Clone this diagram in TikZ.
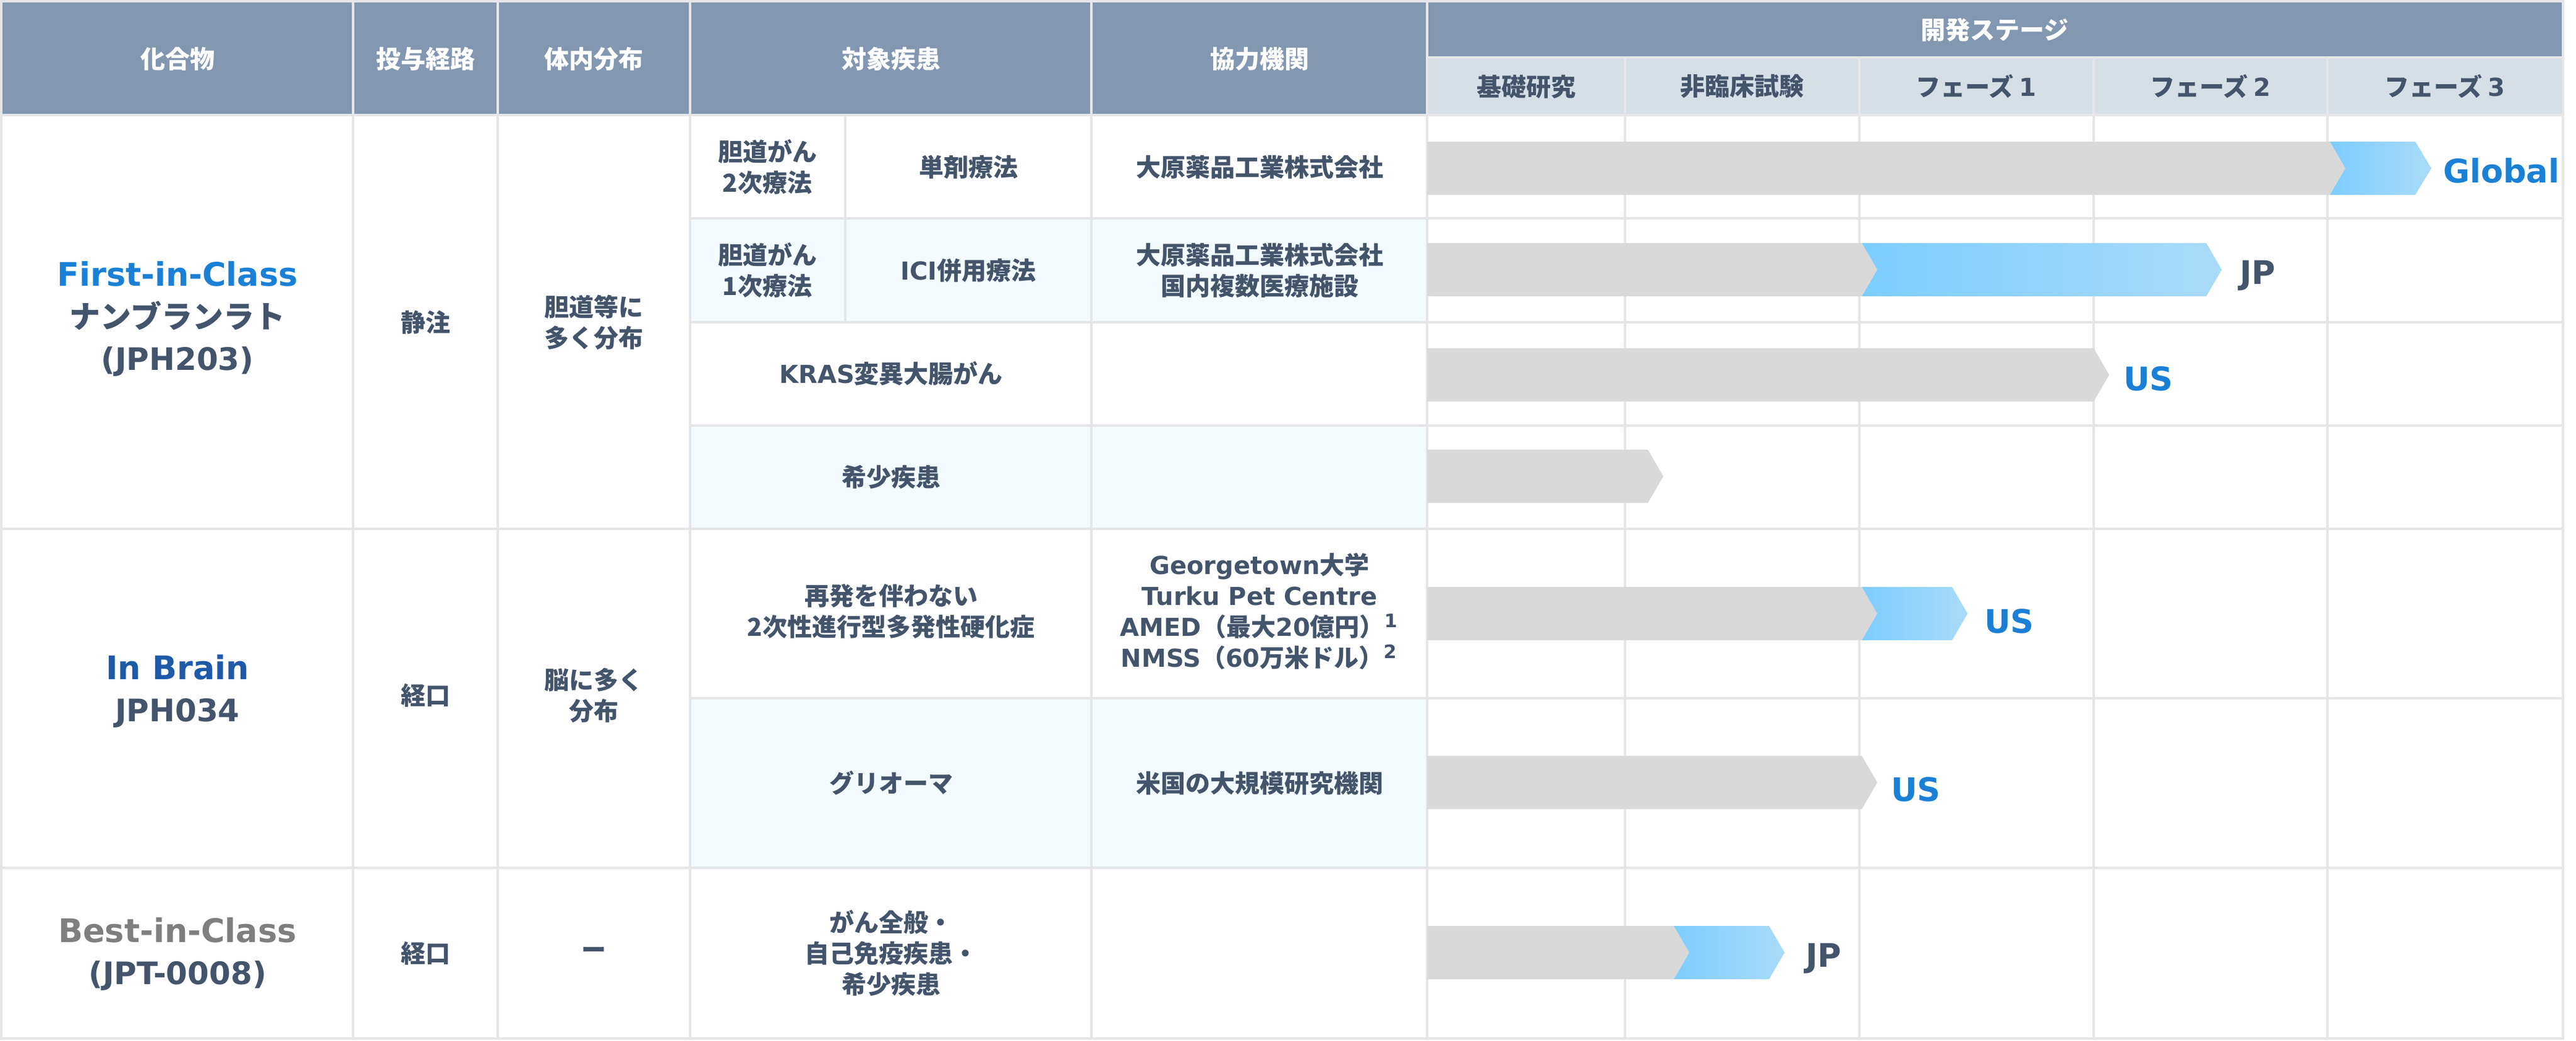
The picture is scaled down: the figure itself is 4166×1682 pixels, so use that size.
\documentclass[tikz,border=0pt]{standalone}
\usepackage{fontspec}
\setmainfont{Noto Sans CJK JP}
\newfontfamily\en{DejaVu Sans}
\usepackage{tikz}

\definecolor{hdDark}{RGB}{132,151,176}
\definecolor{hdLight}{RGB}{214,222,230}
\definecolor{gridGrey}{RGB}{230,230,232}
\definecolor{cellCyan}{RGB}{243,251,254}
\definecolor{slate}{RGB}{68,84,106}
\definecolor{fcBlue}{RGB}{26,128,214}
\definecolor{ibBlue}{RGB}{30,90,168}
\definecolor{bcGrey}{RGB}{127,127,127}
\definecolor{barGrey}{RGB}{217,217,217}
\definecolor{barBlueL}{RGB}{125,205,255}
\definecolor{barBlueR}{RGB}{170,219,248}

\tikzset{
  gridline/.style={draw=gridGrey, line width=0.8pt},
  hdtext/.style={font=\bfseries\fontsize{8}{10}\selectfont, text=white, align=center, inner sep=0pt},
  sttext/.style={font=\bfseries\fontsize{8}{10}\selectfont, text=slate, align=center, inner sep=0pt},
  celltext/.style={font=\bfseries\fontsize{8}{10}\selectfont, text=slate, align=center, inner sep=0pt},
  cmpdtext/.style={font=\bfseries\fontsize{10}{13.6}\selectfont, text=slate, align=center, inner sep=0pt},
  greybar/.style={fill=barGrey, draw=none},
  bluebar/.style={left color=barBlueL, right color=barBlueR, draw=none},
  barlabel/.style={font=\bfseries\fontsize{10.5}{12}\selectfont\en, anchor=base west, inner sep=0pt},
}

\begin{document}
\begin{tikzpicture}[x=0.2pt,y=0.2pt,yscale=-1,xscale=1]
    \useasboundingbox (0,0) rectangle (4166,1682);

    %Shape: Rectangle [header]
    \fill [hdDark] (2,2) rectangle (4145,186);
    \fill [hdLight] (2308,93) rectangle (4145,186);
    %Shape: Rectangle [cyan cells]
    \fill [cellCyan] (1116,353) rectangle (2308,521);
    \fill [cellCyan] (1116,688) rectangle (2308,855);
    \fill [cellCyan] (1116,1129) rectangle (2308,1403);

    %Straight Lines [horizontal grid]
    \draw [gridline] (0,2) -- (4147,2);
    \draw [gridline] (2308,93) -- (4147,93);
    \draw [gridline] (0,186) -- (4147,186);
    \draw [gridline] (1116,353) -- (4147,353);
    \draw [gridline] (1116,521) -- (4147,521);
    \draw [gridline] (1116,688) -- (4147,688);
    \draw [gridline] (0,855) -- (4147,855);
    \draw [gridline] (1116,1129) -- (4147,1129);
    \draw [gridline] (0,1403) -- (4147,1403);
    \draw [gridline] (0,1679) -- (4147,1679);
    %Straight Lines [vertical grid]
    \draw [gridline] (2,0) -- (2,1681);
    \draw [gridline] (571,0) -- (571,1681);
    \draw [gridline] (805,0) -- (805,1681);
    \draw [gridline] (1116,0) -- (1116,1681);
    \draw [gridline] (1367,186) -- (1367,521);
    \draw [gridline] (1765,0) -- (1765,1681);
    \draw [gridline] (2308,0) -- (2308,1681);
    \draw [gridline] (2628,93) -- (2628,1681);
    \draw [gridline] (3007,93) -- (3007,1681);
    \draw [gridline] (3386,93) -- (3386,1681);
    \draw [gridline] (3764,93) -- (3764,1681);
    \draw [gridline] (4145,0) -- (4145,1681);

    %Shape: Chevron [row 1]
    \fill [greybar] (2308,229) -- (3768,229) -- (3793,272) -- (3768,315) -- (2308,315) -- cycle;
    \path [bluebar] (3768,229) -- (3906,229) -- (3932,272) -- (3906,315) -- (3768,315) -- (3793,272) -- cycle;
    %Shape: Chevron [row 2]
    \fill [greybar] (2308,393) -- (3011,393) -- (3036,436) -- (3011,479) -- (2308,479) -- cycle;
    \path [bluebar] (3011,393) -- (3568,393) -- (3593,436) -- (3568,479) -- (3011,479) -- (3036,436) -- cycle;
    %Shape: Chevron [row 3]
    \fill [greybar] (2308,563) -- (3386,563) -- (3411,606) -- (3386,649) -- (2308,649) -- cycle;
    %Shape: Chevron [row 4]
    \fill [greybar] (2308,727) -- (2665,727) -- (2690,770) -- (2665,813) -- (2308,813) -- cycle;
    %Shape: Chevron [row 5]
    \fill [greybar] (2308,949) -- (3011,949) -- (3036,992) -- (3011,1035) -- (2308,1035) -- cycle;
    \path [bluebar] (3011,949) -- (3157,949) -- (3182,992) -- (3157,1035) -- (3011,1035) -- (3036,992) -- cycle;
    %Shape: Chevron [row 6]
    \fill [greybar] (2308,1222) -- (3011,1222) -- (3036,1265) -- (3011,1308) -- (2308,1308) -- cycle;
    %Shape: Chevron [row 7]
    \fill [greybar] (2308,1497) -- (2707,1497) -- (2732,1540) -- (2707,1583) -- (2308,1583) -- cycle;
    \path [bluebar] (2707,1497) -- (2861,1497) -- (2886,1540) -- (2861,1583) -- (2707,1583) -- (2732,1540) -- cycle;

    % Text Node [bar labels]
    \node (lblGlobal) at (3950,295) [barlabel, text=fcBlue] {Global};
    \node (lblJP1) at (3621,459) [barlabel, text=slate] {JP};
    \node (lblUS1) at (3433,631) [barlabel, text=fcBlue] {US};
    \node (lblUS2) at (3208,1023) [barlabel, text=fcBlue] {US};
    \node (lblUS3) at (3057,1295) [barlabel, text=fcBlue] {US};
    \node (lblJP2) at (2919,1563) [barlabel, text=slate] {JP};

    % Text Node [header]
    \node (hdCompound) at (287,95) [hdtext] {化合物};
    \node (hdRoute) at (688,95) [hdtext] {投与経路};
    \node (hdDist) at (960,95) [hdtext] {体内分布};
    \node (hdTarget) at (1441,95) [hdtext] {対象疾患};
    \node (hdPartner) at (2037,95) [hdtext] {協力機関};
    \node (hdStage) at (3226,48) [hdtext] {開発ステージ};
    \node (stBasic) at (2468,140) [sttext] {基礎研究};
    \node (stPre) at (2817,140) [sttext] {非臨床試験};
    \node (stP1) at (3196,140) [sttext] {フェーズ {\en 1}};
    \node (stP2) at (3575,140) [sttext] {フェーズ {\en 2}};
    \node (stP3) at (3954,140) [sttext] {フェーズ {\en 3}};

    % Text Node [compounds]
    \node (cmpdFirst) at (287,516) [cmpdtext] {{\fontsize{10.5}{13.6}\selectfont\en\color{fcBlue}First-in-Class}\\ナンブランラト\\{\en (JPH203)}};
    \node (cmpdBrain) at (287,1118) [cmpdtext] {{\fontsize{10.5}{13.6}\selectfont\en\color{ibBlue}In Brain}\\{\en JPH034}};
    \node (cmpdBest) at (287,1543) [cmpdtext] {{\fontsize{10.5}{13.6}\selectfont\en\color{bcGrey}Best-in-Class}\\{\en (JPT-0008)}};

    % Text Node [route and distribution]
    \node (route1) at (688,521) [celltext] {静注};
    \node (route2) at (688,1124) [celltext] {経口};
    \node (route3) at (688,1541) [celltext] {経口};
    \node (dist1) at (960,521) [celltext] {胆道等に\\多く分布};
    \node (dist2) at (960,1124) [celltext] {脳に多く\\分布};
    \node (dist3) at (960,1541) [celltext] {ー};

    % Text Node [targets]
    \node (tgtBile2) at (1241,270) [celltext] {胆道がん\\2次療法};
    \node (tgtMono) at (1566,270) [celltext] {単剤療法};
    \node (tgtBile1) at (1241,437) [celltext] {胆道がん\\1次療法};
    \node (tgtICI) at (1566,437) [celltext] {{\en ICI}併用療法};
    \node (tgtKRAS) at (1441,604) [celltext] {{\en KRAS}変異大腸がん};
    \node (tgtRare) at (1441,771) [celltext] {希少疾患};
    \node (tgtMS) at (1441,988) [celltext] {再発を伴わない\\2次性進行型多発性硬化症};
    \node (tgtGlioma) at (1441,1266) [celltext] {グリオーマ};
    \node (tgtAll) at (1441,1541) [celltext] {がん全般・\\自己免疫疾患・\\希少疾患};

    % Text Node [partners]
    \node (ptOhara) at (2037,270) [celltext] {大原薬品工業株式会社};
    \node (ptOharaJP) at (2037,437) [celltext] {大原薬品工業株式会社\\国内複数医療施設};
    \node (ptBrain) at (2037,988) [celltext] {{\en Georgetown}大学\\{\en Turku Pet Centre}\\{\en AMED}（最大{\en 20}億円）\textsuperscript{\en 1}\\{\en NMSS}（{\en 60}万米ドル）\textsuperscript{\en 2}};
    \node (ptUS) at (2037,1266) [celltext] {米国の大規模研究機関};
\end{tikzpicture}
\end{document}
